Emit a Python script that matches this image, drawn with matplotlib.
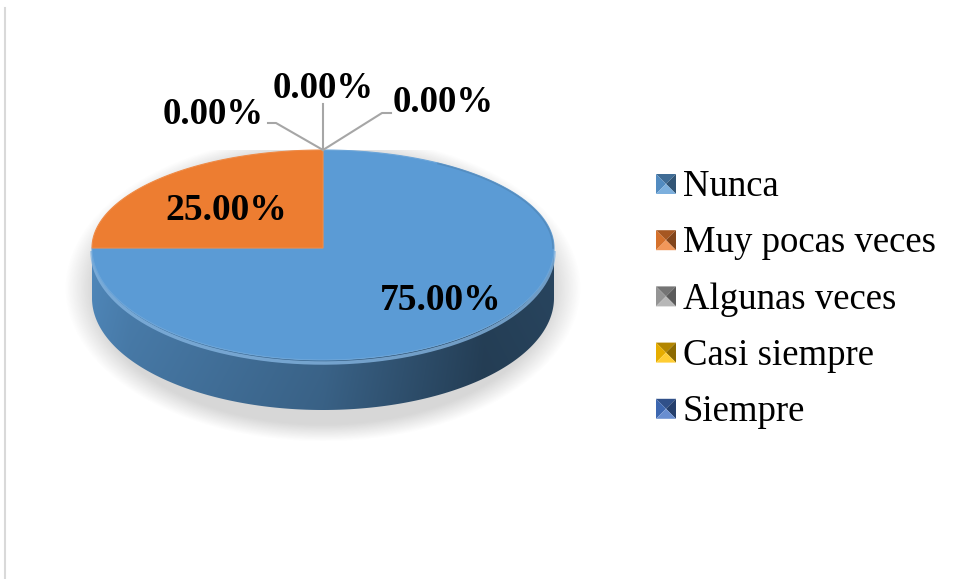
import numpy as np
import matplotlib.pyplot as plt
from matplotlib.patches import Polygon
from matplotlib.colors import to_rgb

categories = ['Nunca', 'Muy pocas veces', 'Algunas veces', 'Casi siempre', 'Siempre']
values = [75.0, 25.0, 0.0, 0.0, 0.0]
colors = ['#5B9BD5', '#ED7D31', '#A5A5A5', '#FFC000', '#4472C4']

plt.rcParams['font.family'] = ['Liberation Serif', 'DejaVu Serif']

fig = plt.figure(figsize=(9.56, 5.79), dpi=100)
ax = fig.add_axes([0, 0, 1, 1])
ax.set_xlim(0, 956)
ax.set_ylim(579, 0)
ax.axis('off')

# pie geometry (screen units, y downwards); the near half is taller (perspective)
cx, cy = 323, 248
rx = 231
ry_back, ry_front = 98, 112
depth = 50


def ell(t, dy=0.0, r=1.0):
    t = np.radians(np.atleast_1d(t))
    s = np.sin(t)
    ryy = np.where(s >= 0, ry_back, ry_front)
    return np.column_stack([cx + r * rx * np.cos(t), cy + dy - r * ryy * s])


def shade(c, f):
    c = np.array(to_rgb(c))
    return tuple(np.clip(c * f, 0, 1))


def tint(c, f):
    c = np.array(to_rgb(c))
    return tuple(c + (1 - c) * f)


# left border line of the chart area
ax.plot([5, 5], [8, 579], color='#D9D9D9', lw=1.5)

# soft shadow under the disc
gx, gy = np.meshgrid(np.linspace(60, 590, 400), np.linspace(150, 470, 240))
d = np.sqrt(((gx - cx) / (rx + 4)) ** 2 + ((gy - (cy + 40)) / (ry_front + 28)) ** 2)
alpha = np.clip((1.10 - d) / 0.12, 0, 1) * 0.28
shadow = np.zeros(gx.shape + (4,))
shadow[..., :3] = 0.45
shadow[..., 3] = alpha
ax.imshow(shadow, extent=[60, 590, 470, 150], zorder=1, interpolation='bilinear')

total = sum(values)
start = 90.0
slices = []
for v, c in zip(values, colors):
    sweep = v / total * 360
    slices.append((start - sweep, start, c, v))
    start -= sweep

# side walls (front half only)
for a1, a2, c, v in slices:
    if v == 0:
        continue
    t = np.linspace(a1, a2, 400)
    front = t[np.sin(np.radians(t)) <= 1e-9]
    if len(front) < 2:
        continue
    top = ell(front)
    bot = ell(front[::-1], dy=depth)
    poly = Polygon(np.vstack([top, bot]), closed=True, facecolor='none', edgecolor='none', zorder=2)
    ax.add_patch(poly)
    # horizontal gradient: lighter at the left, dark at the right
    xs = np.linspace(0, 1, 300)
    base = np.array(to_rgb(c))
    f = np.interp(xs, [0, 0.08, 0.5, 0.85, 1.0], [0.88, 0.82, 0.68, 0.42, 0.45])
    ys = np.linspace(0, 1, 60)[:, None]
    grad = base[None, None, :] * f[None, :, None] * (1 - 0.08 * ys[..., None])
    im = ax.imshow(np.clip(grad, 0, 1), extent=[cx - rx, cx + rx, cy + depth + ry_front, cy - 2],
                   zorder=2, interpolation='bilinear', aspect='auto')
    im.set_clip_path(poly)
    # bevel highlight along the upper rim of the side
    rim = ell(front, dy=3)
    ax.plot(rim[:, 0], rim[:, 1], color=tint(c, 0.25), lw=2.5, alpha=0.8, zorder=3,
            solid_capstyle='butt')

# top faces
for a1, a2, c, v in slices:
    if v == 0:
        continue
    t = np.linspace(a1, a2, 300)
    pts = np.vstack([[cx, cy], ell(t)])
    ax.add_patch(Polygon(pts, closed=True, facecolor=c, edgecolor=tint(c, 0.1), lw=0.8, zorder=4))

# darker bevel on the right edge of the top face
t = np.linspace(0, 60, 200)
edge = ell(t, r=0.996)
ax.plot(edge[:, 0], edge[:, 1], color=shade(colors[0], 0.8), lw=1.2, alpha=0.5, zorder=5)

# value labels on the slices
lab_pos = {0: (0.72, 0.70), 1: (0.595, 0.595)}
for i, (a1, a2, c, v) in enumerate(slices):
    if v == 0:
        continue
    mid = np.radians((a1 + a2) / 2)
    fx, fy = lab_pos.get(i, (0.65, 0.65))
    px = cx + fx * rx * np.cos(mid)
    py = cy - fy * ry_back * np.sin(mid)
    ax.text(px, py + 4, f'{v:.2f}%', ha='center', va='center', fontsize=27,
            fontweight='bold', color='black', zorder=6)

# zero-valued slices: labels with leader lines from the top of the disc
anchor = (cx, cy - ry_back)
zero_labels = [
    ((276, 123), [(276, 123), (268, 123)], (213, 115)),
    ((cx, 104), [], (cx, 88)),
    ((382, 113), [(382, 113), (391, 113)], (443, 102)),
]
zi = 0
for i, (a1, a2, c, v) in enumerate(slices):
    if v != 0:
        continue
    knee, tail, txt = zero_labels[zi]
    zi += 1
    xs = [anchor[0], knee[0]] + [p[0] for p in tail[1:]]
    ys = [anchor[1], knee[1]] + [p[1] for p in tail[1:]]
    ax.plot(xs, ys, color='#A6A6A6', lw=1.5, zorder=6)
    ax.text(txt[0], txt[1], f'{v:.2f}%', ha='center', va='center', fontsize=26.5,
            fontweight='bold', color='black', zorder=6)

# legend with bevelled squares
lx, ly0, step, s = 656, 184, 56.2, 20
for i, (name, c) in enumerate(zip(categories, colors)):
    y = ly0 + i * step
    x0, x1, y0, y1 = lx, lx + s, y - s / 2, y + s / 2
    xm, ym = (x0 + x1) / 2, (y0 + y1) / 2
    tris = [
        ([(x0, y0), (x1, y0), (xm, ym)], shade(c, 0.7)),
        ([(x0, y0), (x0, y1), (xm, ym)], shade(c, 0.9)),
        ([(x1, y0), (x1, y1), (xm, ym)], shade(c, 0.55)),
        ([(x0, y1), (x1, y1), (xm, ym)], tint(c, 0.2)),
    ]
    for pts, fc in tris:
        ax.add_patch(Polygon(pts, closed=True, facecolor=fc, edgecolor='none', zorder=6))
    ax.text(683, y + 3, name, ha='left', va='center', fontsize=26.5, color='black', zorder=6)

fig.savefig('out.png', dpi=100)
